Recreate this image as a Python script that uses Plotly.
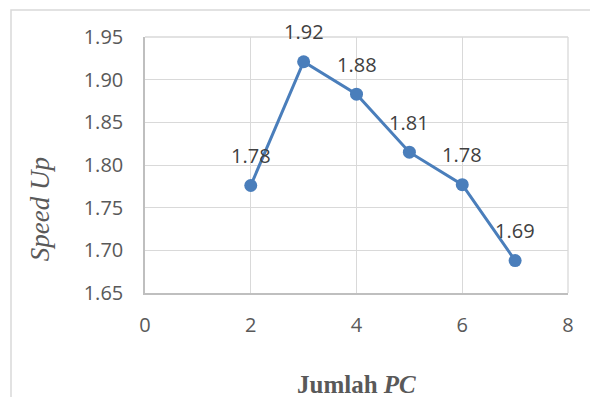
import plotly.graph_objects as go

pcs = [2, 3, 4, 5, 6, 7]
speedup = [1.776, 1.921, 1.883, 1.815, 1.777, 1.688]
labels = ["1.78", "1.92", "1.88", "1.81", "1.78", "1.69"]
x_ticks = [0, 2, 4, 6, 8]
y_ticks = [1.65, 1.70, 1.75, 1.80, 1.85, 1.90, 1.95]
y_tick_text = ["%.2f" % v for v in y_ticks]

fig = go.Figure()
fig.add_trace(go.Scatter(
    x=pcs, y=speedup, mode="lines+markers",
    line=dict(color="#4A7EBB", width=3),
    marker=dict(color="#4A7EBB", size=13),
    hoverinfo="skip", showlegend=False,
))

for xv, yv, t in zip(pcs, speedup, labels):
    fig.add_annotation(x=xv, y=yv, text=t, showarrow=False, yshift=30,
                       font=dict(family="Open Sans", size=20, color="#404040"))

fig.add_annotation(xref="paper", yref="paper", x=-0.248, y=0.328,
                   xanchor="center", yanchor="middle",
                   text="<i>Speed Up</i>", showarrow=False, textangle=-90,
                   font=dict(family="Liberation Serif", size=27, color="#595959"))
fig.add_annotation(xref="paper", yref="paper", x=0.5, y=-0.359,
                   xanchor="center", yanchor="middle",
                   text="<b>Jumlah <i>PC</i></b>", showarrow=False,
                   font=dict(family="Liberation Serif", size=25, color="#595959"))

fig.add_shape(type="rect", xref="paper", yref="paper",
              x0=-0.3168, x1=1.3, y0=-0.6, y1=1.1055,
              line=dict(color="#D9D9D9", width=1.5), layer="below")

fig.update_xaxes(range=[0, 8], tickvals=x_ticks, showgrid=True, gridcolor="#D9D9D9",
                 gridwidth=1.3, zeroline=False, showline=True, linecolor="#BFBFBF",
                 linewidth=1.5, mirror=False, ticks="outside", ticklen=13,
                 tickcolor="rgba(0,0,0,0)",
                 tickfont=dict(family="Open Sans", size=20, color="#595959"))
fig.update_yaxes(range=[1.65, 1.95], tickvals=y_ticks, ticktext=y_tick_text,
                 showgrid=True, gridcolor="#D9D9D9", gridwidth=1.3, zeroline=False,
                 showline=True, linecolor="#BFBFBF", linewidth=1.5,
                 ticks="outside", ticklen=16, tickcolor="rgba(0,0,0,0)",
                 tickfont=dict(family="Open Sans", size=20, color="#595959"))

fig.add_shape(type="line", xref="paper", yref="paper", x0=1, x1=1, y0=0, y1=1,
              line=dict(color="#D9D9D9", width=1.3))
fig.add_shape(type="line", xref="paper", yref="paper", x0=0, x1=1, y0=1, y1=1,
              line=dict(color="#D9D9D9", width=1.3))

fig.update_layout(width=598, height=397, margin=dict(l=137, r=38, t=29, b=112),
                  plot_bgcolor="white", paper_bgcolor="white")

fig.write_html("out.html")
